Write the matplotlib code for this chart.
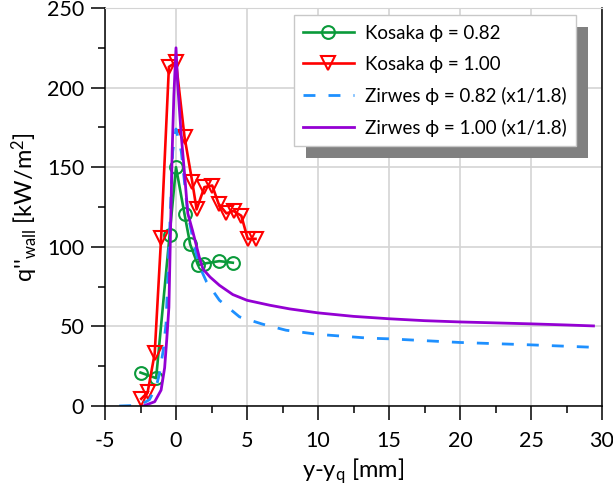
#!/usr/bin/env python3
import matplotlib
matplotlib.use('Agg')
import matplotlib.pyplot as plt
from matplotlib.patches import Rectangle
from matplotlib.ticker import MultipleLocator

# Kosaka experiment, phi = 0.82
kosaka_082_x = [-2.5, -1.4, -0.45, 0.0, 0.6, 1.0, 1.55, 2.0, 3.05, 4.0]
kosaka_082_q = [21, 17.5, 107.5, 150, 120.5, 101.5, 88.5, 89.5, 91, 90]

# Kosaka experiment, phi = 1.00
kosaka_100_x = [-2.45, -2.0, -1.5, -1.05, -0.5, 0.0, 0.6, 1.15, 1.45, 2.0,
                2.55, 3.0, 3.55, 4.05, 4.6, 5.05, 5.6]
kosaka_100_q = [4.5, 8.5, 33, 105.5, 213, 216, 169, 140.5, 123.5, 137.5,
                138.5, 127, 121, 122.5, 119.5, 105, 105]

# Zirwes simulation, phi = 0.82 (scaled by 1/1.8)
zirwes_082_x = [-4.0, -3.0, -2.35, -1.87, -1.4, -1.17, -0.9, -0.7, -0.46, -0.23,
                0.0, 0.37, 0.83, 1.3, 1.64, 2.15, 3.06, 4.47, 6.1, 7.75,
                10.0, 13.6, 15.0, 20.0, 25.0, 29.6]
zirwes_082_q = [0, 0.3, 1.5, 4, 12, 20, 35, 52, 107, 160,
                174, 160, 121, 100, 88, 78, 66.4, 56, 51.4, 47.6,
                45, 42.6, 42.2, 39.9, 38.4, 36.8]

# Zirwes simulation, phi = 1.00 (scaled by 1/1.8)
zirwes_100_x = [-2.3, -1.5, -1.05, -0.8, -0.65, -0.5, -0.39, -0.27, -0.15, 0.0,
                0.12, 0.36, 0.6, 0.83, 1.17, 1.64, 1.9, 2.4, 3.06, 4.0,
                5.0, 6.6, 8.0, 10.0, 12.5, 15.0, 17.5, 20.0, 22.5, 25.0,
                27.5, 29.4]
zirwes_100_q = [0, 2.7, 10, 24, 42, 62, 108, 160, 195, 225,
                202, 171, 146, 121, 110, 93.5, 86, 81, 75.8, 70,
                66.4, 63.3, 61, 58.5, 56.3, 54.8, 53.6, 52.8, 52.2, 51.6,
                50.9, 50.3]

plt.rcParams['font.family'] = ['Lato', 'DejaVu Sans']
plt.rcParams['font.size'] = 15.5
plt.rcParams['axes.unicode_minus'] = False
plt.rcParams['mathtext.fontset'] = 'custom'
plt.rcParams['mathtext.rm'] = 'Lato'
plt.rcParams['mathtext.it'] = 'Lato'

fig = plt.figure(figsize=(6.13, 4.95), dpi=100)
ax = fig.add_axes([105 / 613, 1 - 406 / 495, 497 / 613, 398 / 495])

ax.plot(kosaka_082_x, kosaka_082_q, color='#0a9a3a', lw=1.9, marker='o',
        ms=9.2, mfc='none', mew=1.5, label='Kosaka \u03d5 = 0.82')
ax.plot(kosaka_100_x, kosaka_100_q, color='#ff0000', lw=1.9, marker='v',
        ms=9.5, mfc='none', mew=1.5, label='Kosaka \u03d5 = 1.00')
ax.plot(zirwes_082_x, zirwes_082_q, color='#1e90ff', lw=2.0,
        ls=(0, (4.3, 4.7)), label='Zirwes \u03d5 = 0.82 (x1/1.8)')
ax.plot(zirwes_100_x, zirwes_100_q, color='#9400d3', lw=2.0,
        label='Zirwes \u03d5 = 1.00 (x1/1.8)')

ax.set_xlim(-5, 30)
ax.set_ylim(0, 250)
ax.xaxis.set_major_locator(MultipleLocator(5))
ax.xaxis.set_minor_locator(MultipleLocator(2.5))
ax.yaxis.set_major_locator(MultipleLocator(50))
ax.yaxis.set_minor_locator(MultipleLocator(25))
ax.grid(True, which='major', color='#d4d4d4', lw=1.2)
ax.set_axisbelow(True)

ax.tick_params(which='major', direction='out', length=10, width=1.1, pad=5)
ax.tick_params(axis='x', which='major', pad=8)
ax.tick_params(which='minor', direction='out', length=5, width=1.1)
for side in ('left', 'bottom', 'right'):
    ax.spines[side].set_linewidth(1.1)
    ax.spines[side].set_color('black')
ax.spines['top'].set_color('#d4d4d4')

ax.set_xlabel(r'y-y$_{\mathrm{q}}$ [mm]', fontsize=17, labelpad=4)
ax.set_ylabel(r"q''$_{\mathrm{wall}}$ [kW/m$^{2}$]", fontsize=17, labelpad=5)

leg = ax.legend(loc='upper right', bbox_to_anchor=(0.948, 0.982),
                borderaxespad=0, fancybox=False, framealpha=1,
                edgecolor='#c8c8c8', handlelength=2.7, labelspacing=0.75,
                borderpad=0.5, handletextpad=0.6, fontsize=13.5)
leg.get_frame().set_linewidth(1.0)
leg.set_zorder(6)

# grey drop shadow behind the legend box
fig.canvas.draw()
bb = leg.get_window_extent()
off = 12
shadow = Rectangle((bb.x0 + off, bb.y0 - off), bb.width, bb.height,
                   transform=None, facecolor='#808080', edgecolor='none',
                   zorder=5.5, clip_on=False)
ax.add_artist(shadow)

fig.savefig('out.png', dpi=100)
